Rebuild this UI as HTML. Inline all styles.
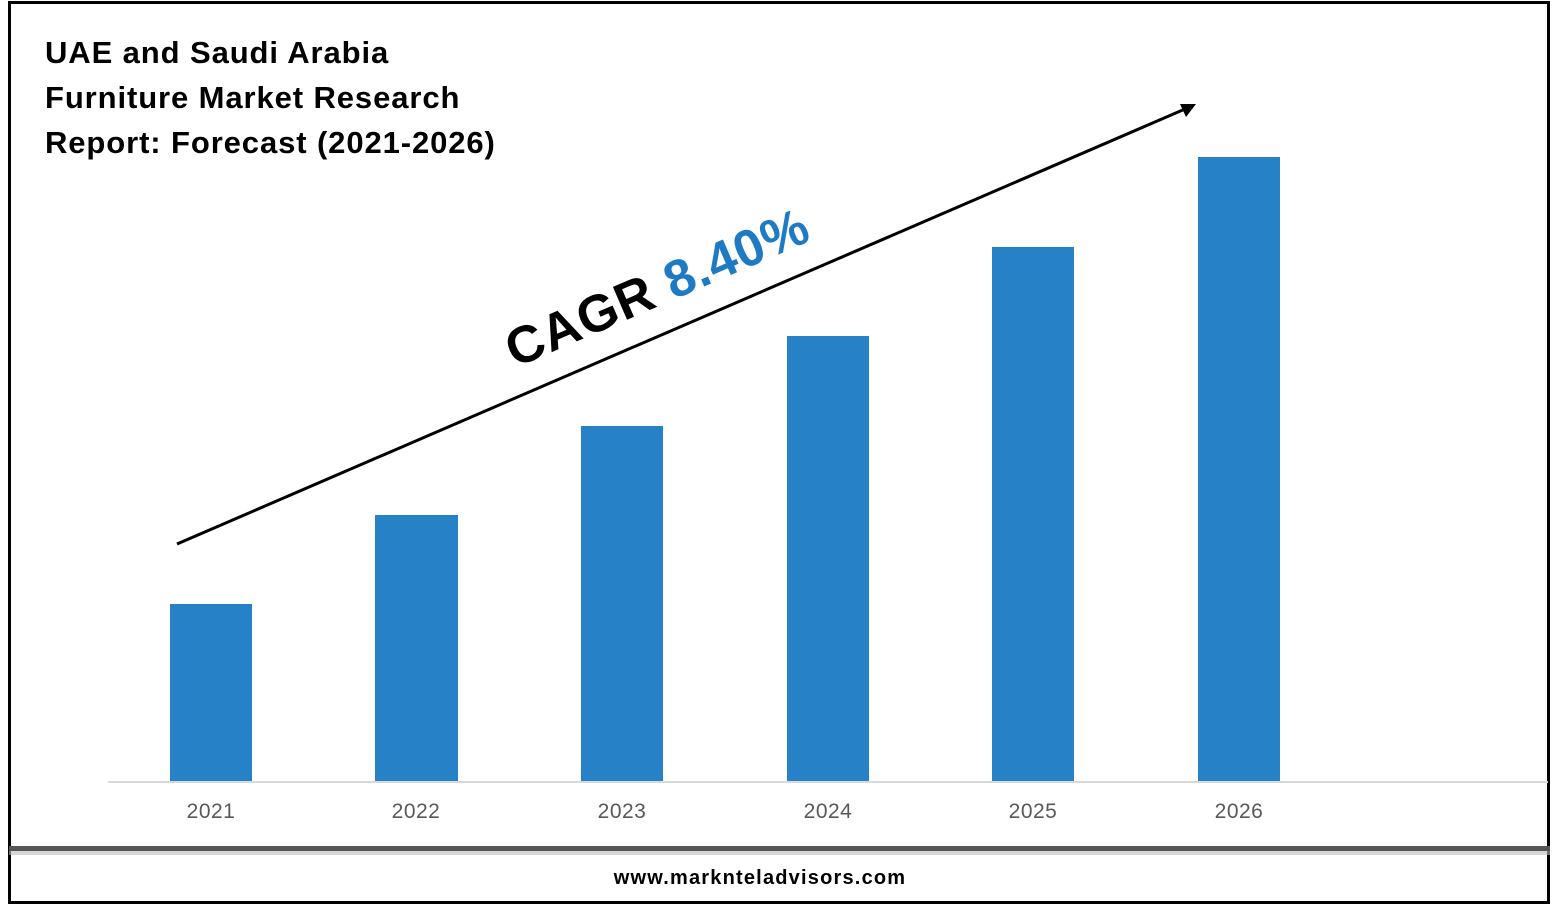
<!DOCTYPE html>
<html><head><style>body{margin:0;background:#fff}</style></head><body>
<svg width="1557" height="906" xmlns="http://www.w3.org/2000/svg">
<rect x="0" y="0" width="1557" height="906" fill="#fff"/>
<rect x="9.5" y="2.5" width="1539" height="900" fill="none" stroke="#000" stroke-width="3"/>
<rect x="9" y="846" width="1541" height="5" fill="#555"/>
<rect x="9" y="851" width="1541" height="4" fill="#bbb" opacity="0.6"/>
<g font-family="Liberation Sans, sans-serif" font-weight="bold" font-size="31" fill="#000" letter-spacing="0.9">
<text x="45" y="63">UAE and Saudi Arabia</text>
<text x="45" y="108">Furniture Market Research</text>
<text x="45" y="153">Report: Forecast (2021-2026)</text>
</g>
<line x1="108" y1="782" x2="1548" y2="782" stroke="#d9d9d9" stroke-width="2"/>
<g fill="#2681c6">
<rect x="170" y="604" width="82" height="177"/>
<rect x="375" y="515" width="83" height="266"/>
<rect x="581" y="426" width="82" height="355"/>
<rect x="787" y="336" width="82" height="445"/>
<rect x="992" y="247" width="82" height="534"/>
<rect x="1198" y="157" width="82" height="624"/>
</g>
<g font-family="Liberation Sans, sans-serif" font-size="21" fill="#595959" text-anchor="middle" letter-spacing="0.5">
<text x="211" y="818">2021</text><text x="416" y="818">2022</text><text x="622" y="818">2023</text>
<text x="828" y="818">2024</text><text x="1033" y="818">2025</text><text x="1239" y="818">2026</text>
</g>
<line x1="177" y1="544" x2="1185" y2="109" stroke="#000" stroke-width="3"/>
<polygon points="1196,104 1180,104 1186,117" fill="#000"/>
<text transform="translate(515,368) rotate(-23.3)" font-family="Liberation Sans, sans-serif" font-weight="bold" font-size="52" letter-spacing="1"><tspan fill="#000">CAGR </tspan><tspan fill="#1f7ac4">8.40%</tspan></text>
<text x="760" y="884" text-anchor="middle" font-family="Liberation Sans, sans-serif" font-weight="bold" font-size="20" fill="#000" letter-spacing="1.2">www.marknteladvisors.com</text>
</svg>
</body></html>
